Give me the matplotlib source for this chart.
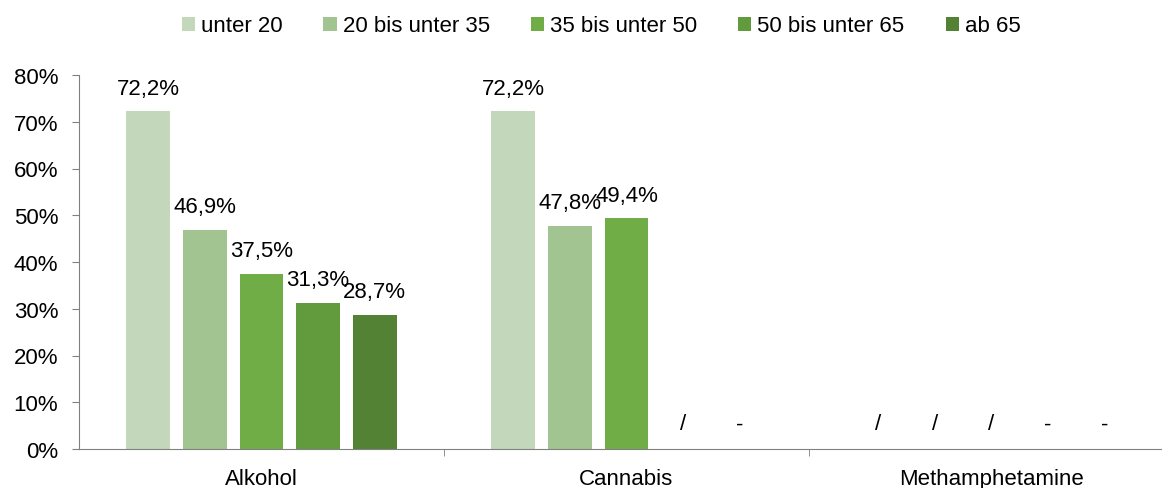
import numpy as np
import matplotlib.pyplot as plt
from matplotlib.ticker import FixedLocator, PercentFormatter

plt.rcParams['font.family'] = ['Liberation Sans', 'DejaVu Sans']

# Data
categories = ['Alkohol', 'Cannabis', 'Methamphetamine']
groups = ['unter 20', '20 bis unter 35', '35 bis unter 50', '50 bis unter 65', 'ab 65']
unter_20 = [72.2, 72.2, None]
von_20_35 = [46.9, 47.8, None]
von_35_50 = [37.5, 49.4, None]
von_50_65 = [31.3, None, None]
ab_65 = [28.7, None, None]
# labels shown where no value exists
missing = [
    ['', '', '/'],
    ['', '', '/'],
    ['', '', '/'],
    ['', '/', '-'],
    ['', '-', '-'],
]
colors = ['#C3D7BA', '#A2C490', '#70AD47', '#629B3E', '#548235']

series = [unter_20, von_20_35, von_35_50, von_50_65, ab_65]
fs = 16

fig = plt.figure(figsize=(11.62, 4.89), dpi=100)
ax = fig.add_axes([79/1162, 39/489, 1095/1162, 374/489])

x = np.arange(len(categories))
pitch = 0.155
width = 0.12
for j, (vals, name) in enumerate(zip(series, groups)):
    xs = x + (j - 2) * pitch
    h = [v if v is not None else 0 for v in vals]
    ax.bar(xs, h, width, color=colors[j], label=name)
    for i, v in enumerate(vals):
        if v is not None:
            txt = ('%.1f%%' % v).replace('.', ',')
            ax.annotate(txt, (xs[i], v), xytext=(0, 23), textcoords='offset pixels',
                        ha='center', va='center', fontsize=fs)
        elif missing[j][i]:
            ax.annotate(missing[j][i], (xs[i], 0), xytext=(0, 25), textcoords='offset pixels',
                        ha='center', va='center', fontsize=fs)

ax.set_xlim(-0.5, 2.5)
ax.set_ylim(0, 80)
ax.yaxis.set_major_locator(FixedLocator(np.arange(0, 81, 10)))
ax.yaxis.set_major_formatter(PercentFormatter(decimals=0))
ax.set_xticks(x)
ax.set_xticklabels(categories)
ax.xaxis.set_minor_locator(FixedLocator([0.5, 1.5]))
ax.tick_params(axis='x', which='major', length=0, pad=14, labelsize=fs)
ax.tick_params(axis='x', which='minor', length=5, color='#808080')
ax.tick_params(axis='y', length=5, color='#808080', labelsize=fs, pad=10)
for s in ['top', 'right']:
    ax.spines[s].set_visible(False)
for s in ['left', 'bottom']:
    ax.spines[s].set_color('#808080')

fig.legend(loc='center', bbox_to_anchor=(601/1162, 1 - 27/489), ncol=5, frameon=False,
           fontsize=fs, handlelength=0.59, handleheight=0.59, handletextpad=0.27,
           columnspacing=1.85, borderaxespad=0, borderpad=0)

fig.savefig('out.png')
